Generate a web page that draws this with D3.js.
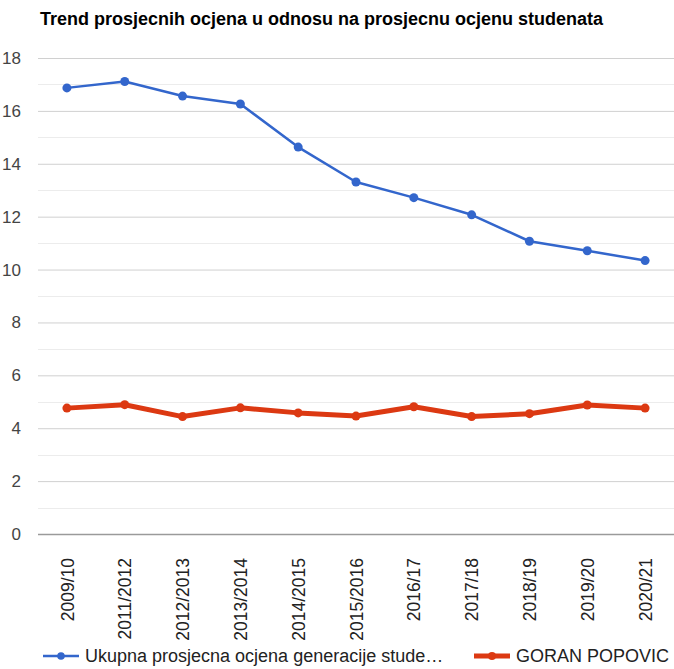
<!DOCTYPE html>
<html>
<head>
<meta charset="utf-8">
<script src="https://cdnjs.cloudflare.com/ajax/libs/d3/7.8.5/d3.min.js"></script>
<style>
  body { margin: 0; background: #fff; }
  text { font-family: Arial, "Liberation Sans", sans-serif; }
</style>
</head>
<body>
<svg class="trend"></svg>
<script>
var categories = ["2009/10","2011/2012","2012/2013","2013/2014","2014/2015","2015/2016","2016/17","2017/18","2018/19","2019/20","2020/21"];
var ukupna = [16.87,17.11,16.56,16.26,14.63,13.31,12.72,12.07,11.07,10.71,10.34];
var goran  = [4.76,4.89,4.44,4.77,4.58,4.46,4.81,4.44,4.55,4.88,4.76];
var yTicks = [0,2,4,6,8,10,12,14,16,18];
var seriesNames = ["Ukupna prosjecna ocjena generacije stude\u2026","GORAN POPOVIC"];

var colors = {blue: "#3366cc", red: "#dc3912"};

var margin = {top: 58, right: 0, bottom: 135, left: 38},
    fullW = 674, fullH = 669,
    width = fullW - margin.left - margin.right,
    height = fullH - margin.top - margin.bottom;

var svg = d3.select(".trend")
    .attr("width", fullW)
    .attr("height", fullH);

// title
svg.append("text")
    .attr("x", 40)
    .attr("y", 25)
    .style("font-size", "18px")
    .style("font-weight", "bold")
    .attr("fill", "#000")
    .text("Trend prosjecnih ocjena u odnosu na prosjecnu ocjenu studenata");

var x = d3.scalePoint()
    .domain(categories)
    .range([margin.left, margin.left + width])
    .padding(0.5);

var y = d3.scaleLinear()
    .domain([0, 18])
    .range([margin.top + height, margin.top]);

// minor gridlines at odd values
var minor = d3.range(1, 18, 2);
svg.append("g").selectAll("line")
    .data(minor).enter().append("line")
    .attr("x1", margin.left).attr("x2", margin.left + width)
    .attr("y1", function(d){ return Math.round(y(d)) + 0.5; })
    .attr("y2", function(d){ return Math.round(y(d)) + 0.5; })
    .style("stroke", "#ececec").style("stroke-width", 1);

// y axis with major gridlines
var yAxis = d3.axisLeft(y)
    .tickValues(yTicks)
    .tickSize(-width)
    .tickPadding(17)
    .tickFormat(d3.format("d"));

var gy = svg.append("g")
    .attr("transform", "translate(" + margin.left + ",0)")
    .call(yAxis);
gy.select(".domain").remove();
gy.selectAll(".tick line")
    .style("stroke", function(d){ return d == 0 ? "#9a9a9a" : "#d0d0d0"; })
    .style("stroke-width", function(d){ return d == 0 ? 1.5 : 1; });
gy.selectAll(".tick text")
    .style("font-size", "17px")
    .attr("fill", "#444");

// x axis labels (rotated)
var xAxis = d3.axisBottom(x).tickSize(0).tickPadding(0);
var gx = svg.append("g")
    .attr("transform", "translate(0," + (margin.top + height) + ")")
    .call(xAxis);
gx.select(".domain").remove();
gx.selectAll(".tick text")
    .style("font-size", "17.5px")
    .attr("fill", "#222")
    .attr("text-anchor", "end")
    .attr("transform", "rotate(-90)")
    .attr("x", -24)
    .attr("y", 0)
    .attr("dy", "0.35em");

var line = d3.line()
    .x(function(d, i){ return x(categories[i]); })
    .y(function(d){ return y(d); });

function drawSeries(vals, color, lw, r) {
  svg.append("path")
      .datum(vals)
      .attr("d", line)
      .attr("fill", "none")
      .style("stroke", color)
      .style("stroke-width", lw)
      .style("stroke-linejoin", "round");
  svg.append("g").selectAll("circle")
      .data(vals).enter().append("circle")
      .attr("cx", function(d, i){ return x(categories[i]); })
      .attr("cy", function(d){ return y(d); })
      .attr("r", r)
      .attr("fill", color);
}

drawSeries(ukupna, colors.blue, 2.5, 4.5);
drawSeries(goran, colors.red, 5, 4.5);

// legend
var legend = [
  {name: seriesNames[0], color: colors.blue, lw: 2.5, r: 3.8, x: 43},
  {name: seriesNames[1], color: colors.red, lw: 5, r: 4, x: 474}
];
var lg = svg.append("g").selectAll("g")
    .data(legend).enter().append("g")
    .attr("transform", function(d){ return "translate(" + d.x + ",656)"; });
lg.append("line")
    .attr("x1", 0).attr("x2", 36).attr("y1", 0).attr("y2", 0)
    .style("stroke", function(d){ return d.color; })
    .style("stroke-width", function(d){ return d.lw; });
lg.append("circle")
    .attr("cx", 18).attr("cy", 0)
    .attr("r", function(d){ return d.r; })
    .attr("fill", function(d){ return d.color; });
lg.append("text")
    .attr("x", 42)
    .attr("y", 0)
    .attr("dy", "0.35em")
    .style("font-size", "18px")
    .attr("fill", "#222")
    .text(function(d){ return d.name; });
</script>
</body>
</html>
